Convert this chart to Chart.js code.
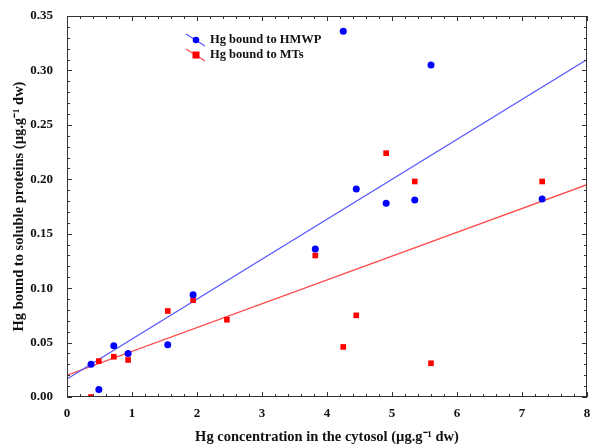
<!doctype html>
<html lang="en">
  <head>
    <meta charset="utf-8">
    <title>Hg bound to soluble proteins</title>
    <style>
      * { margin: 0; padding: 0; }
      body { background: #fff; }
      .chartBox { width: 592px; height: 446px; }
    </style>
  </head>
  <body>
    <div class="chartBox">
      <canvas id="myChart" width="592" height="446"></canvas>
    </div>
    <script src="https://cdn.jsdelivr.net/npm/chart.js/dist/chart.umd.min.js"></script>
    <script>
    // setup
    const hmwpX = [0.37, 0.49, 0.72, 0.94, 1.55, 1.94, 3.82, 4.25, 4.45, 4.91, 5.35, 5.60, 7.31];
    const hmwpY = [0.030, 0.007, 0.047, 0.040, 0.048, 0.094, 0.136, 0.336, 0.191, 0.178, 0.181, 0.305, 0.182];
    const mtX = [0.37, 0.49, 0.72, 0.94, 1.55, 1.94, 2.46, 3.82, 4.25, 4.45, 4.91, 5.35, 5.60, 7.31];
    const mtY = [0.000, 0.033, 0.037, 0.034, 0.079, 0.089, 0.071, 0.130, 0.046, 0.075, 0.224, 0.198, 0.031, 0.198];
    // regression lines read at x = 0 and x = 8
    const fitX = [0, 8];
    const hmwpFit = [0.0165, 0.310];
    const mtFit = [0.020, 0.195];
    const xTicks = [0, 1, 2, 3, 4, 5, 6, 7, 8];
    const yTicks = [0, 0.05, 0.10, 0.15, 0.20, 0.25, 0.30, 0.35];
    const legendLabels = ['Hg bound to HMWP', 'Hg bound to MTs'];

    const BLUE = '#0000ff';
    const RED = '#ff0000';
    const SERIF = "'Liberation Serif', 'Times New Roman', serif";

    const pts = (xs, ys) => xs.map((x, i) => ({ x: x, y: ys[i] }));

    const data = {
      datasets: [
        {
          label: legendLabels[0],
          type: 'line',
          data: pts(fitX, hmwpFit),
          borderColor: 'rgba(90, 90, 255, 1)',
          borderWidth: 1.3,
          pointRadius: 0,
          order: 3
        },
        {
          label: legendLabels[1],
          type: 'line',
          data: pts(fitX, mtFit),
          borderColor: 'rgba(255, 80, 80, 1)',
          borderWidth: 1.3,
          pointRadius: 0,
          order: 4
        },
        {
          label: legendLabels[0],
          data: pts(hmwpX, hmwpY),
          backgroundColor: BLUE,
          borderColor: BLUE,
          pointStyle: 'circle',
          pointRadius: 3.5,
          borderWidth: 0,
          order: 1
        },
        {
          label: legendLabels[1],
          data: pts(mtX, mtY),
          backgroundColor: RED,
          borderColor: RED,
          pointStyle: 'rect',
          pointRadius: 4,
          borderWidth: 0,
          order: 2
        }
      ]
    };

    // frame + inward minor ticks on all four sides
    const frame = {
      id: 'frame',
      afterDatasetsDraw(chart) {
        const { ctx, chartArea: { top, bottom, left, right }, scales: { x, y } } = chart;
        ctx.save();
        ctx.strokeStyle = '#333';
        ctx.lineWidth = 1;
        ctx.strokeRect(left + 0.5, top + 0.5, right - left - 1, bottom - top - 1);
        ctx.beginPath();
        for (let v = 0; v <= 40; v++) {
          const px = Math.round(x.getPixelForValue(v * 0.2)) + 0.5;
          const len = v % 5 === 0 ? 5 : 3;
          ctx.moveTo(px, bottom); ctx.lineTo(px, bottom - len);
          ctx.moveTo(px, top); ctx.lineTo(px, top + len);
        }
        for (let v = 0; v <= 35; v++) {
          const py = Math.round(y.getPixelForValue(v * 0.01)) + 0.5;
          const len = v % 5 === 0 ? 5 : 3;
          ctx.moveTo(left, py); ctx.lineTo(left + len, py);
          ctx.moveTo(right, py); ctx.lineTo(right - len, py);
        }
        ctx.stroke();
        ctx.restore();
      }
    };

    // legend with short slanted line and marker
    const slantLegend = {
      id: 'slantLegend',
      afterDraw(chart) {
        const { ctx, chartArea: { top, left } } = chart;
        const lx = left + 129, ly = top + 24;
        const lineColors = ['rgba(90, 90, 255, 1)', 'rgba(255, 80, 80, 1)'];
        ctx.save();
        ctx.font = 'bold 12.5px ' + SERIF;
        ctx.textBaseline = 'middle';
        ctx.fillStyle = '#111';
        legendLabels.forEach((label, i) => {
          const cy = ly + i * 15;
          ctx.beginPath();
          ctx.strokeStyle = lineColors[i];
          ctx.lineWidth = 1.3;
          ctx.moveTo(lx - 10, cy - 6);
          ctx.lineTo(lx + 9, cy + 6);
          ctx.stroke();
          ctx.fillStyle = i === 0 ? BLUE : RED;
          if (i === 0) {
            ctx.beginPath();
            ctx.arc(lx, cy, 3.3, 0, Math.PI * 2);
            ctx.fill();
          } else {
            ctx.fillRect(lx - 3.5, cy - 3.5, 7, 7);
          }
          ctx.fillStyle = '#111';
          ctx.fillText(label, lx + 14, cy);
        });
        ctx.restore();
      }
    };

    // config
    const config = {
      type: 'scatter',
      data,
      options: {
        responsive: false,
        animation: false,
        layout: { padding: { top: 16, right: 5, left: 0, bottom: 0 } },
        scales: {
          x: {
            type: 'linear',
            min: 0,
            max: 8,
            afterBuildTicks: (s) => { s.ticks = xTicks.map(v => ({ value: v })); },
            afterFit: (s) => { s.height = 49; s.paddingLeft = 0; s.paddingRight = 0; },
            grid: { display: false, drawTicks: false },
            border: { display: false },
            ticks: {
              padding: 9,
              color: '#111',
              font: { family: SERIF, size: 13, weight: 'bold' },
              callback: (v) => String(v)
            },
            title: {
              display: true,
              text: 'Hg concentration in the cytosol (µg.g⁻¹ dw)',
              color: '#111',
              font: { family: SERIF, size: 14.5, weight: 'bold' },
              padding: { top: 6, bottom: 0 }
            }
          },
          y: {
            type: 'linear',
            min: 0,
            max: 0.35,
            afterBuildTicks: (s) => { s.ticks = yTicks.map(v => ({ value: v })); },
            afterFit: (s) => { s.width = 67; s.paddingTop = 0; s.paddingBottom = 0; },
            grid: { display: false, drawTicks: false },
            border: { display: false },
            ticks: {
              padding: 14,
              color: '#111',
              font: { family: SERIF, size: 13, weight: 'bold' },
              callback: (v) => v.toFixed(2)
            },
            title: {
              display: true,
              text: 'Hg bound to soluble proteins (µg.g⁻¹ dw)',
              color: '#111',
              font: { family: SERIF, size: 14.5, weight: 'bold' },
              padding: { top: 11, bottom: 4 }
            }
          }
        },
        plugins: {
          legend: { display: false },
          tooltip: { enabled: false }
        }
      },
      plugins: [frame, slantLegend]
    };

    // render init block
    const myChart = new Chart(document.getElementById('myChart'), config);
    </script>
  </body>
</html>
